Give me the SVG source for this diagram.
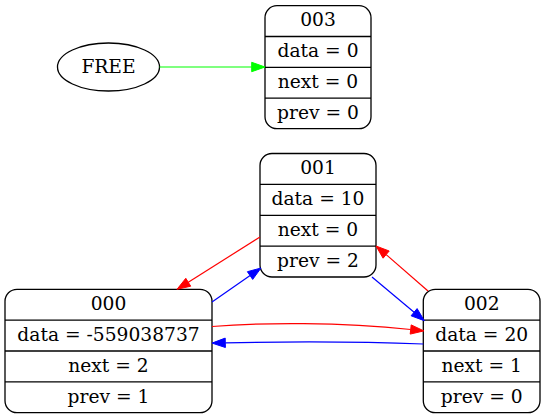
<svg xmlns="http://www.w3.org/2000/svg" width="545" height="419" viewBox="0 0 545 419">
<style>
.box{fill:#fff;stroke:#000;stroke-width:1.3}
.div{stroke:#000;stroke-width:1.3}
text{font-family:"DejaVu Serif",serif;font-size:18.67px;fill:#000;text-anchor:middle}
.e{fill:none;stroke-width:1.2}
</style>
<rect width="545" height="419" fill="#fff"/>
<g id="FREE">
<ellipse cx="108.5" cy="67" rx="51" ry="24" fill="#fff" stroke="#000" stroke-width="1.3"/>
<text x="108.5" y="72.8">FREE</text>
</g>
<g id="node003">
<rect class="box" x="265" y="5.7" width="106" height="123" rx="12"/>
<line class="div" x1="265" y1="36.5" x2="371" y2="36.5"/>
<line class="div" x1="265" y1="67.4" x2="371" y2="67.4"/>
<line class="div" x1="265" y1="98.2" x2="371" y2="98.2"/>
<text x="318" y="26.4">003</text>
<text x="318" y="57.3">data = 0</text>
<text x="318" y="88.2">next = 0</text>
<text x="318" y="119">prev = 0</text>
</g>
<g id="node001">
<rect class="box" x="260" y="153.5" width="116" height="123.5" rx="12"/>
<line class="div" x1="260" y1="184.4" x2="376" y2="184.4"/>
<line class="div" x1="260" y1="215.3" x2="376" y2="215.3"/>
<line class="div" x1="260" y1="246.1" x2="376" y2="246.1"/>
<text x="318" y="174.4">001</text>
<text x="318" y="205.3">data = 10</text>
<text x="318" y="236.2">next = 0</text>
<text x="318" y="267">prev = 2</text>
</g>
<g id="node000">
<rect class="box" x="5" y="289.3" width="207" height="123.4" rx="12"/>
<line class="div" x1="5" y1="320.2" x2="212" y2="320.2"/>
<line class="div" x1="5" y1="351" x2="212" y2="351"/>
<line class="div" x1="5" y1="381.9" x2="212" y2="381.9"/>
<text x="108.5" y="310.2">000</text>
<text x="108.5" y="341">data = -559038737</text>
<text x="108.5" y="371.9">next = 2</text>
<text x="108.5" y="402.7">prev = 1</text>
</g>
<g id="node002">
<rect class="box" x="423.3" y="289.3" width="116.7" height="123.4" rx="12"/>
<line class="div" x1="423.3" y1="320.2" x2="540" y2="320.2"/>
<line class="div" x1="423.3" y1="351" x2="540" y2="351"/>
<line class="div" x1="423.3" y1="381.9" x2="540" y2="381.9"/>
<text x="481.7" y="310.2">002</text>
<text x="481.7" y="341">data = 20</text>
<text x="481.7" y="371.9">next = 1</text>
<text x="481.7" y="402.7">prev = 0</text>
</g>
<g id="edges">
<path class="e" stroke="#00ff00" d="M159.5,67 L251.7,67"/>
<polygon fill="#00ff00" stroke="#00ff00" stroke-width="1" points="265,67 251.7,62.3 251.7,71.7"/>
<path class="e" stroke="#ff0000" d="M260,237 L188.3,282.2"/>
<polygon fill="#ff0000" stroke="#ff0000" stroke-width="1" points="177,289.3 190.7,286.2 185.8,278.3"/>
<path class="e" stroke="#0000ff" d="M212,302 L250.1,275.6"/>
<polygon fill="#0000ff" stroke="#0000ff" stroke-width="1" points="261,268 252.7,279.4 247.4,271.7"/>
<path class="e" stroke="#ff0000" d="M428,291 L386.2,254.6"/>
<polygon fill="#ff0000" stroke="#ff0000" stroke-width="1" points="376,246 389.2,251 383.1,258.2"/>
<path class="e" stroke="#0000ff" d="M372,277 L414.1,312.2"/>
<polygon fill="#0000ff" stroke="#0000ff" stroke-width="1" points="424.3,320.7 411.1,315.8 417.1,308.6"/>
<path class="e" stroke="#ff0000" d="M212,326.5 C262,322.5 340,322 410.7,329.5"/>
<polygon fill="#ff0000" stroke="#ff0000" stroke-width="1" points="423.9,330.9 410.2,334.1 411.2,324.9"/>
<path class="e" stroke="#0000ff" d="M423.3,344 C360,341.5 290,341.5 225.3,342.8"/>
<polygon fill="#0000ff" stroke="#0000ff" stroke-width="1" points="212,343.1 225.4,347.5 225.2,338.1"/>
</g>
</svg>
